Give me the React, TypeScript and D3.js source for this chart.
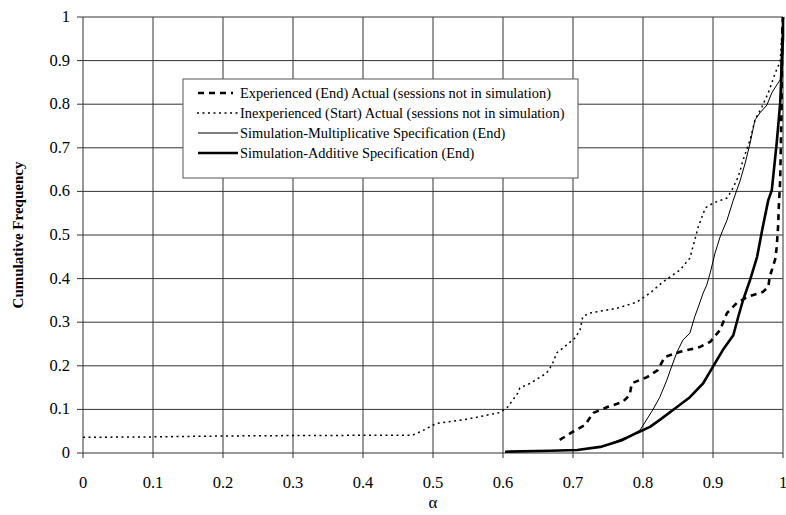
import React from "react";
import * as d3 from "d3";

const xTicks = [0, 0.1, 0.2, 0.3, 0.4, 0.5, 0.6, 0.7, 0.8, 0.9, 1];
const yTicks = [0, 0.1, 0.2, 0.3, 0.4, 0.5, 0.6, 0.7, 0.8, 0.9, 1];

const expX = [0.681, 0.7, 0.717, 0.729, 0.75, 0.771, 0.781, 0.784, 0.806, 0.821, 0.831, 0.853, 0.881, 0.896, 0.91, 0.92, 0.934, 0.949, 0.971, 0.979, 0.981, 0.989, 0.991, 0.993, 0.994, 0.996, 0.998, 0.999, 1];
const expY = [0.03, 0.049, 0.064, 0.092, 0.106, 0.117, 0.133, 0.16, 0.174, 0.19, 0.22, 0.232, 0.243, 0.255, 0.282, 0.321, 0.344, 0.358, 0.369, 0.381, 0.404, 0.445, 0.472, 0.52, 0.564, 0.626, 0.8, 0.977, 1];

const inexpX = [0, 0.1, 0.2, 0.3, 0.471, 0.49, 0.5, 0.506, 0.55, 0.596, 0.601, 0.607, 0.621, 0.624, 0.639, 0.662, 0.67, 0.677, 0.691, 0.703, 0.71, 0.714, 0.724, 0.763, 0.791, 0.81, 0.829, 0.853, 0.867, 0.874, 0.879, 0.889, 0.9, 0.92, 0.927, 0.936, 0.943, 0.953, 0.96, 0.97, 0.979, 0.989, 0.996, 1];
const inexpY = [0.036, 0.037, 0.039, 0.04, 0.041, 0.055, 0.064, 0.068, 0.078, 0.093, 0.099, 0.106, 0.137, 0.149, 0.16, 0.183, 0.202, 0.23, 0.248, 0.264, 0.282, 0.313, 0.321, 0.332, 0.346, 0.367, 0.393, 0.42, 0.447, 0.489, 0.519, 0.562, 0.573, 0.585, 0.603, 0.633, 0.672, 0.718, 0.764, 0.794, 0.826, 0.872, 0.898, 1];

const multX = [0.603, 0.667, 0.706, 0.743, 0.777, 0.789, 0.796, 0.814, 0.824, 0.834, 0.839, 0.849, 0.857, 0.867, 0.874, 0.879, 0.886, 0.891, 0.896, 0.903, 0.91, 0.914, 0.92, 0.929, 0.934, 0.939, 0.946, 0.953, 0.96, 0.967, 0.977, 0.984, 0.991, 0.996, 1];
const multY = [0.003, 0.005, 0.007, 0.015, 0.037, 0.046, 0.053, 0.099, 0.128, 0.167, 0.19, 0.233, 0.259, 0.275, 0.313, 0.335, 0.367, 0.385, 0.413, 0.459, 0.495, 0.511, 0.534, 0.58, 0.603, 0.626, 0.665, 0.711, 0.764, 0.78, 0.798, 0.826, 0.844, 0.856, 1];

const addX = [0.603, 0.667, 0.706, 0.739, 0.771, 0.791, 0.81, 0.824, 0.849, 0.867, 0.886, 0.9, 0.914, 0.929, 0.936, 0.943, 0.953, 0.963, 0.971, 0.979, 0.984, 0.991, 0.996, 1, 1];
const addY = [0.003, 0.005, 0.007, 0.014, 0.03, 0.046, 0.06, 0.076, 0.106, 0.128, 0.16, 0.198, 0.236, 0.27, 0.312, 0.351, 0.397, 0.45, 0.518, 0.58, 0.603, 0.711, 0.803, 0.954, 1];

const legendLabels = [
  "Experienced (End) Actual (sessions not in simulation)",
  "Inexperienced (Start) Actual (sessions not in simulation)",
  "Simulation-Multiplicative Specification (End)",
  "Simulation-Additive Specification (End)",
];

const W = 786;
const H = 515;
const FONT = "'Liberation Serif', 'Times New Roman', serif";

export default function App() {
  const x = d3.scaleLinear().domain([0, 1]).range([83, 783]);
  const y = d3.scaleLinear().domain([0, 1]).range([453, 17]);
  const line = d3
    .line<[number, number]>()
    .x((d) => x(d[0]))
    .y((d) => y(d[1]));
  const zip = (a: number[], b: number[]) => a.map((v, i) => [v, b[i]] as [number, number]);

  const series = [
    { d: zip(expX, expY), w: 2.6, dash: "6,5" },
    { d: zip(inexpX, inexpY), w: 1.5, dash: "2,3.5" },
    { d: zip(multX, multY), w: 1, dash: "" },
    { d: zip(addX, addY), w: 2.6, dash: "" },
  ];

  const lgX = 183, lgY = 79, lgW = 395, lgH = 99;
  const rowY = [93, 113, 133, 153];

  return (
    <svg width={W} height={H} style={{ position: "absolute", left: 0, top: 0, background: "#fff" }}>
      <rect width={W} height={H} fill="#fff" />
      {yTicks.map((t) => (
        <line key={"gy" + t} x1={77} x2={783} y1={y(t)} y2={y(t)} stroke="#333" strokeWidth={1} />
      ))}
      {xTicks.map((t) => (
        <line key={"gx" + t} x1={x(t)} x2={x(t)} y1={17} y2={458} stroke="#333" strokeWidth={1} />
      ))}
      {yTicks.map((t) => (
        <text key={"ty" + t} x={70} y={y(t) + 5} textAnchor="end" fontFamily={FONT} fontSize={16.5} fill="#000">
          {d3.format("")(t)}
        </text>
      ))}
      {xTicks.map((t) => (
        <text key={"tx" + t} x={x(t)} y={488} textAnchor="middle" fontFamily={FONT} fontSize={16.5} fill="#000">
          {d3.format("")(t)}
        </text>
      ))}
      <text x={433} y={508} textAnchor="middle" fontFamily={FONT} fontSize={17} fill="#000">
        α
      </text>
      <text
        transform={`translate(23,235) rotate(-90)`}
        textAnchor="middle"
        fontFamily={FONT}
        fontSize={15}
        fontWeight="bold"
        fill="#000"
      >
        Cumulative Frequency
      </text>
      {series.map((s, i) => (
        <path
          key={"s" + i}
          d={line(s.d) || ""}
          fill="none"
          stroke="#000"
          strokeWidth={s.w}
          strokeDasharray={s.dash || undefined}
          strokeLinejoin="round"
        />
      ))}
      <rect x={lgX} y={lgY} width={lgW} height={lgH} fill="#fff" stroke="#555" strokeWidth={1} />
      {series.map((s, i) => (
        <g key={"lg" + i}>
          <line
            x1={i === 1 ? 197 : 198}
            x2={i === 0 ? 233 : 238}
            y1={rowY[i]}
            y2={rowY[i]}
            stroke="#000"
            strokeWidth={s.w}
            strokeDasharray={s.dash || undefined}
          />
          <text x={240} y={rowY[i] + 5} fontFamily={FONT} fontSize={14.4} fill="#000">
            {legendLabels[i]}
          </text>
        </g>
      ))}
    </svg>
  );
}
